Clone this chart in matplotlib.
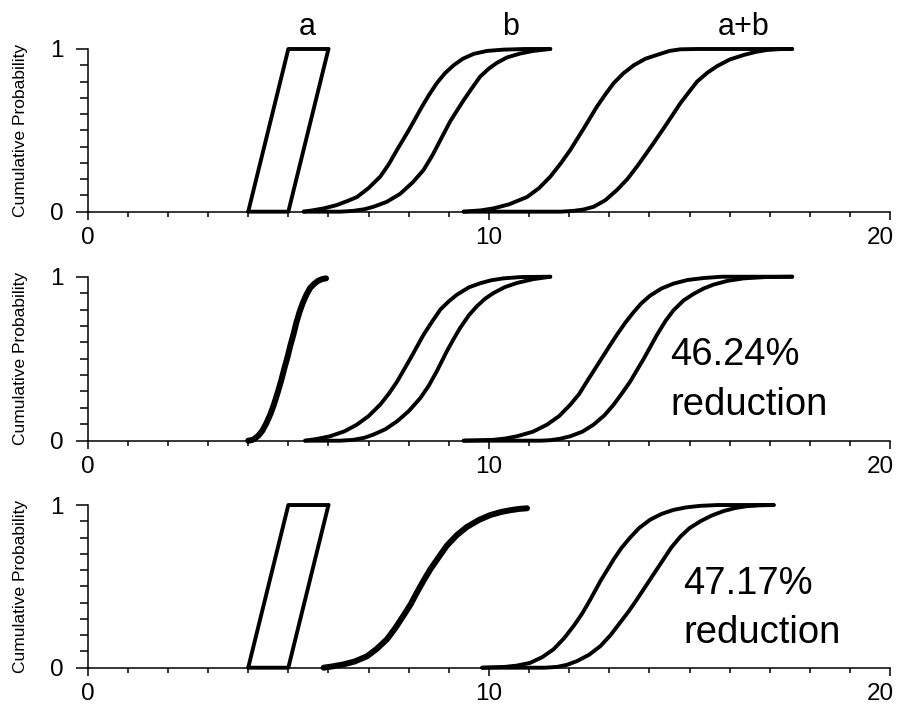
import matplotlib
matplotlib.use("Agg")
import matplotlib.pyplot as plt
from matplotlib.ticker import MultipleLocator
from matplotlib.transforms import ScaledTranslation

plt.rcParams['font.family'] = ['Liberation Sans', 'DejaVu Sans']

# ---------------- data ----------------
# Panel 1
p1_a_up_x = [4.0, 5.0, 6.0]
p1_a_up_y = [0.0, 1.0, 1.0]
p1_a_lo_x = [4.0, 5.0, 6.0]
p1_a_lo_y = [0.0, 0.0, 1.0]

p1_b_up_x = [5.38, 5.6, 5.88, 6.2, 6.5, 6.71, 7.0, 7.29, 7.5, 7.71, 8.0, 8.33, 8.5, 8.70,
             8.9, 9.12, 9.35, 9.62, 9.95, 10.36, 10.9, 11.53]
p1_b_up_y = [0.0, 0.008, 0.02, 0.04, 0.068, 0.09, 0.145, 0.215, 0.29, 0.38, 0.50, 0.645, 0.715, 0.79,
             0.85, 0.90, 0.94, 0.97, 0.988, 0.996, 1.0, 1.0]
p1_b_lo_x = [5.38, 6.3, 6.62, 6.9, 7.12, 7.45, 7.79, 8.1, 8.37, 8.6, 8.79, 9.03, 9.2, 9.37,
             9.55, 9.78, 10.0, 10.2, 10.45, 10.78, 11.1, 11.53]
p1_b_lo_y = [0.0, 0.0, 0.005, 0.015, 0.03, 0.06, 0.11, 0.18, 0.256, 0.35, 0.44, 0.553, 0.62, 0.685,
             0.75, 0.83, 0.88, 0.915, 0.948, 0.972, 0.988, 1.0]

p1_ab_up_x = [9.37, 9.8, 10.11, 10.5, 10.95, 11.25, 11.53, 11.8, 12.03, 12.36, 12.69, 12.9, 13.11,
              13.35, 13.61, 13.9, 14.27, 14.5, 14.77, 15.2, 17.56]
p1_ab_up_y = [0.0, 0.008, 0.02, 0.045, 0.09, 0.145, 0.215, 0.30, 0.38, 0.51, 0.645, 0.72, 0.79,
              0.85, 0.90, 0.94, 0.97, 0.988, 0.998, 1.0, 1.0]
p1_ab_lo_x = [9.37, 11.8, 12.11, 12.35, 12.61, 12.9, 13.19, 13.45, 13.69, 13.9, 14.1, 14.44, 14.77,
              15.0, 15.19, 15.45, 15.69, 16.0, 16.35, 16.65, 16.93, 17.25, 17.56]
p1_ab_lo_y = [0.0, 0.0, 0.005, 0.013, 0.03, 0.07, 0.133, 0.2, 0.277, 0.35, 0.42, 0.543, 0.666,
              0.74, 0.80, 0.855, 0.895, 0.935, 0.963, 0.982, 0.994, 0.999, 1.0]

# Panel 2
p2_a_x = [4.0, 4.08, 4.15, 4.25, 4.35, 4.45, 4.55, 4.64, 4.73, 4.82, 4.9, 4.98, 5.05, 5.13,
          5.2, 5.28, 5.36, 5.45, 5.54, 5.65, 5.75, 5.85, 5.94]
p2_a_y = [0.0, 0.003, 0.01, 0.03, 0.06, 0.105, 0.16, 0.22, 0.29, 0.365, 0.44, 0.51, 0.58, 0.65,
          0.72, 0.785, 0.84, 0.89, 0.93, 0.958, 0.976, 0.986, 0.99]

p2_b_up_x = [5.42, 5.7, 6.04, 6.4, 6.71, 7.0, 7.29, 7.5, 7.71, 8.04, 8.37, 8.58, 8.79, 9.0,
             9.2, 9.5, 9.78, 10.05, 10.36, 10.8, 11.53]
p2_b_up_y = [0.0, 0.01, 0.027, 0.057, 0.098, 0.15, 0.22, 0.285, 0.36, 0.50, 0.646, 0.725, 0.80, 0.85,
             0.89, 0.935, 0.96, 0.978, 0.99, 0.998, 1.0]
p2_b_lo_x = [5.42, 6.3, 6.62, 6.9, 7.12, 7.42, 7.71, 8.0, 8.29, 8.5, 8.7, 8.95, 9.12, 9.28,
             9.5, 9.7, 9.9, 10.11, 10.4, 10.7, 11.1, 11.53]
p2_b_lo_y = [0.0, 0.0, 0.005, 0.018, 0.037, 0.07, 0.118, 0.18, 0.26, 0.335, 0.423, 0.545, 0.62, 0.687,
             0.765, 0.82, 0.865, 0.90, 0.937, 0.962, 0.985, 1.0]

p2_ab_up_x = [9.37, 10.1, 10.4, 10.70, 11.1, 11.45, 11.75, 12.03, 12.25, 12.44, 12.78, 13.0, 13.19,
              13.4, 13.61, 13.8, 14.02, 14.3, 14.6, 14.95, 15.35, 15.8, 17.56]
p2_ab_up_y = [0.0, 0.005, 0.013, 0.027, 0.055, 0.098, 0.15, 0.22, 0.285, 0.36, 0.49, 0.575, 0.646,
              0.72, 0.785, 0.838, 0.885, 0.928, 0.958, 0.98, 0.992, 1.0, 1.0]
p2_ab_lo_x = [9.37, 11.3, 11.53, 11.78, 12.03, 12.33, 12.61, 12.88, 13.11, 13.32, 13.52, 13.86, 14.19,
              14.4, 14.6, 14.85, 15.1, 15.35, 15.6, 15.95, 16.35, 16.9, 17.56]
p2_ab_lo_y = [0.0, 0.0, 0.003, 0.012, 0.027, 0.055, 0.098, 0.155, 0.22, 0.29, 0.36, 0.50, 0.646,
              0.73, 0.795, 0.855, 0.895, 0.928, 0.952, 0.975, 0.99, 0.998, 1.0]

# Panel 3
p3_a_up_x = [4.0, 5.0, 6.0]
p3_a_up_y = [0.0, 1.0, 1.0]
p3_a_lo_x = [4.0, 5.0, 6.0]
p3_a_lo_y = [0.0, 0.0, 1.0]

p3_b_x = [5.88, 6.1, 6.37, 6.65, 6.96, 7.2, 7.46, 7.67, 7.87, 8.05, 8.2, 8.37, 8.54, 8.75,
          8.95, 9.2, 9.45, 9.75, 10.03, 10.3, 10.53, 10.75, 10.95]
p3_b_y = [0.0, 0.008, 0.02, 0.038, 0.07, 0.115, 0.175, 0.245, 0.32, 0.39, 0.46, 0.535, 0.605, 0.68,
          0.75, 0.815, 0.865, 0.908, 0.938, 0.957, 0.968, 0.976, 0.98]

p3_ab_up_x = [9.83, 10.4, 10.7, 11.03, 11.33, 11.61, 11.87, 12.11, 12.33, 12.53, 12.78, 13.11, 13.3,
              13.52, 13.75, 14.02, 14.3, 14.6, 14.93, 15.27, 15.7, 17.1]
p3_ab_up_y = [0.0, 0.005, 0.013, 0.03, 0.065, 0.113, 0.18, 0.256, 0.335, 0.42, 0.533, 0.666, 0.735,
              0.80, 0.86, 0.91, 0.945, 0.97, 0.986, 0.995, 1.0, 1.0]
p3_ab_lo_x = [9.83, 11.4, 11.7, 11.95, 12.19, 12.5, 12.78, 13.03, 13.27, 13.48, 13.69, 14.02, 14.35,
              14.55, 14.77, 15.0, 15.27, 15.55, 15.85, 16.15, 16.43, 16.75, 17.1]
p3_ab_lo_y = [0.0, 0.0, 0.005, 0.018, 0.04, 0.08, 0.133, 0.2, 0.277, 0.345, 0.42, 0.543, 0.666,
              0.74, 0.805, 0.858, 0.90, 0.935, 0.963, 0.982, 0.993, 0.998, 1.0]

top_labels = ["a", "b", "a+b"]
top_label_x = [5.46, 10.54, 16.35]
reduction_texts = ["46.24%", "47.17%"]
ylabel = "Cumulative Probability"
xtick_vals = [0, 10, 20]
xtick_labels = ["0", "10", "20"]

# ---------------- figure ----------------
fig = plt.figure(figsize=(8.99, 7.11), dpi=100)
L, W = 0.0976, 0.8925
boxes = [(0.7023, 0.2288), (0.3802, 0.2306), (0.0609, 0.2288)]
axes = [fig.add_axes([L, b, W, h]) for b, h in boxes]

LW = 2.8
LW_THICK = 4.3

def line(ax, x, y, lw=LW):
    ax.plot(x, y, color='black', lw=lw, solid_capstyle='round',
            solid_joinstyle='round', clip_on=False, zorder=3)

for ax in axes:
    ax.set_xlim(0, 20)
    ax.set_ylim(0, 1)
    ax.spines['top'].set_visible(False)
    ax.spines['right'].set_visible(False)
    ax.spines['left'].set_linewidth(1.1)
    ax.spines['bottom'].set_linewidth(1.1)
    ax.set_xticks(xtick_vals)
    ax.set_xticklabels(xtick_labels)
    ax.set_yticks([0, 1])
    ax.xaxis.set_minor_locator(MultipleLocator(1))
    ax.yaxis.set_minor_locator(MultipleLocator(0.1))
    ax.tick_params(axis='y', which='major', direction='out', length=8.4,
                   width=1.1, labelsize=17.5, pad=9)
    ax.tick_params(axis='y', which='minor', direction='out', length=5.5, width=1.1)
    ax.tick_params(axis='x', which='major', direction='out', length=6,
                   width=1.1, labelsize=17.5, pad=5)
    ax.tick_params(axis='x', which='minor', direction='out', length=3.5, width=1.1)
    ax.set_ylabel(ylabel, fontsize=12.5)
    ax.yaxis.set_label_coords(-0.075, 0.5)
    last = ax.get_xticklabels()[-1]
    last.set_transform(last.get_transform() +
                       ScaledTranslation(-10 / 100, 0, fig.dpi_scale_trans))

# Panel 1
ax = axes[0]
line(ax, p1_a_up_x, p1_a_up_y)
line(ax, p1_a_lo_x, p1_a_lo_y)
line(ax, p1_b_up_x, p1_b_up_y)
line(ax, p1_b_lo_x, p1_b_lo_y)
line(ax, p1_ab_up_x, p1_ab_up_y)
line(ax, p1_ab_lo_x, p1_ab_lo_y)
for lab, lx in zip(top_labels, top_label_x):
    ax.text(lx, 1.086, lab, ha='center', va='baseline', fontsize=22,
            clip_on=False)

# Panel 2
ax = axes[1]
line(ax, p2_a_x, p2_a_y, LW_THICK)
line(ax, p2_b_up_x, p2_b_up_y)
line(ax, p2_b_lo_x, p2_b_lo_y)
line(ax, p2_ab_up_x, p2_ab_up_y)
line(ax, p2_ab_lo_x, p2_ab_lo_y)
ax.text(14.52, 0.463, reduction_texts[0], ha='left', va='baseline', fontsize=27.5)
ax.text(14.52, 0.159, "reduction", ha='left', va='baseline', fontsize=27.5)

# Panel 3
ax = axes[2]
line(ax, p3_a_up_x, p3_a_up_y)
line(ax, p3_a_lo_x, p3_a_lo_y)
line(ax, p3_b_x, p3_b_y, LW_THICK)
line(ax, p3_ab_up_x, p3_ab_up_y)
line(ax, p3_ab_lo_x, p3_ab_lo_y)
ax.text(14.85, 0.451, reduction_texts[1], ha='left', va='baseline', fontsize=27.5)
ax.text(14.85, 0.154, "reduction", ha='left', va='baseline', fontsize=27.5)

fig.savefig("out.png", dpi=100)
